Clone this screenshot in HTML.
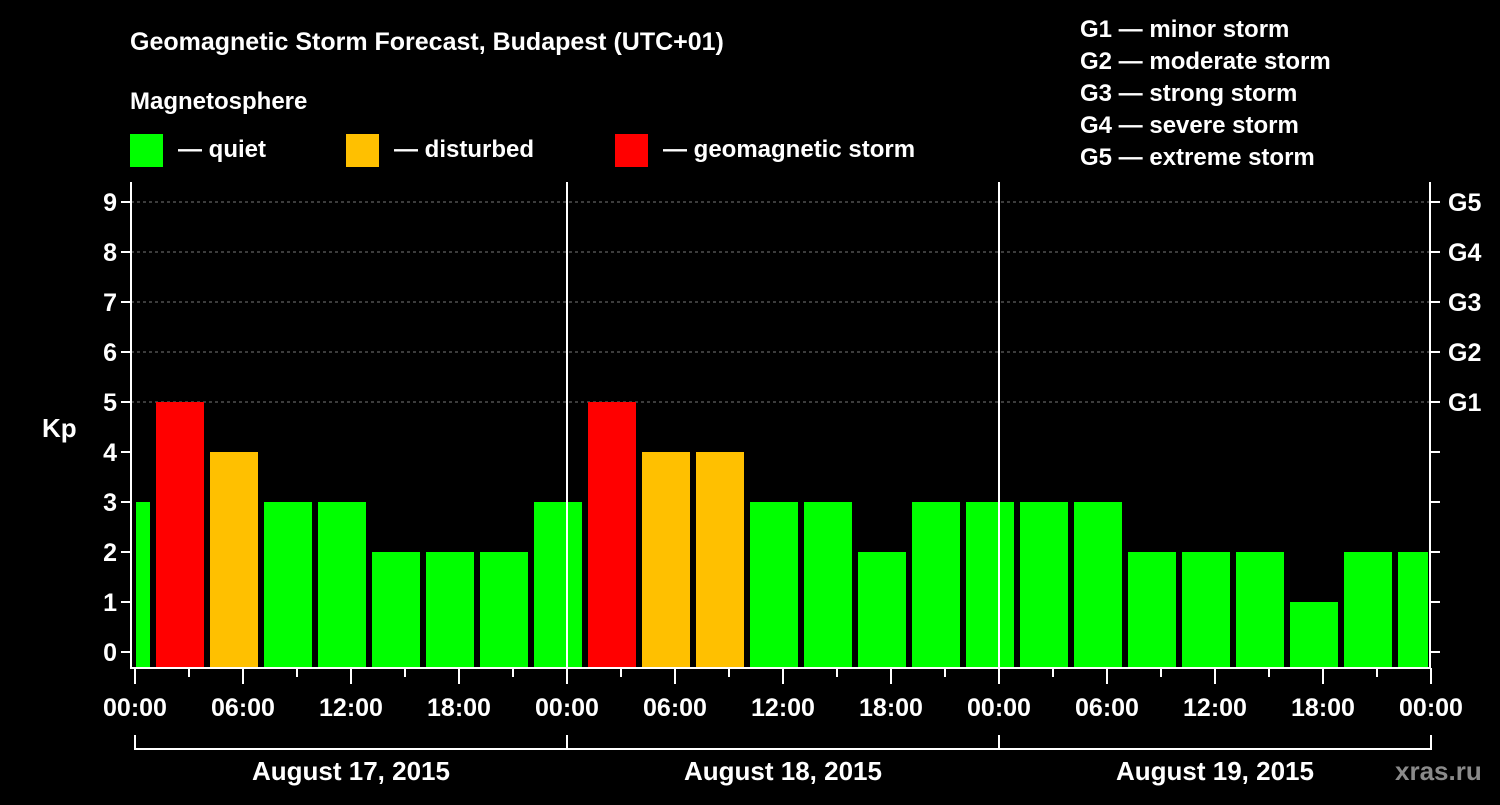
<!DOCTYPE html>
<html><head><meta charset="utf-8"><style>
body{margin:0;background:#000;}
svg text{font-family:"Liberation Sans",Arial,sans-serif;font-weight:bold;fill:#fff;}
</style></head><body>
<svg width="1500" height="800" viewBox="0 0 1500 800" xmlns="http://www.w3.org/2000/svg">
<rect width="1500" height="800" fill="#000"/>
<text x="130" y="50" font-size="25">Geomagnetic Storm Forecast, Budapest (UTC+01)</text>
<text x="130" y="109" font-size="24">Magnetosphere</text>
<g><rect x="130" y="134" width="33" height="33" fill="#00ff00"/><text x="178" y="157" font-size="24">— quiet</text></g>
<g><rect x="346" y="134" width="33" height="33" fill="#ffc000"/><text x="394" y="157" font-size="24">— disturbed</text></g>
<g><rect x="615" y="134" width="33" height="33" fill="#ff0000"/><text x="663" y="157" font-size="24">— geomagnetic storm</text></g>
<g font-size="24">
<text x="1080" y="37">G1 — minor storm</text>
<text x="1080" y="69">G2 — moderate storm</text>
<text x="1080" y="101">G3 — strong storm</text>
<text x="1080" y="133">G4 — severe storm</text>
<text x="1080" y="165">G5 — extreme storm</text>
</g>
<text x="42" y="437" font-size="26">Kp</text>
<g id="plot"></g>
<text x="1395" y="780" font-size="26" fill="#888" style="fill:#8a8a8a">xras.ru</text>
</svg>
<script>
const kpValues=[3,5,4,3,3,2,2,2,3,5,4,4,3,3,2,3,3,3,3,2,2,2,1,2,2];
const yTicks=[0,1,2,3,4,5,6,7,8,9];
const gLabels=["G1","G2","G3","G4","G5"];
const hourLabels=["00:00","06:00","12:00","18:00"];
const dayLabels=["August 17, 2015","August 18, 2015","August 19, 2015"];
const NS="http://www.w3.org/2000/svg";
const g=document.getElementById('plot');
const L=131,R=1430,T=182,B=668,X0=135,HPX=18;
const y=v=>652-50*v;
const x=h=>X0+h*HPX;
function mk(t,a){const e=document.createElementNS(NS,t);for(const k in a)e.setAttribute(k,a[k]);g.appendChild(e);return e;}
// grid
for(let v=5;v<=9;v++){const l=mk('line',{x1:L,x2:R,y1:y(v),y2:y(v),stroke:'#777','stroke-dasharray':'3,3'});

}
// bars
kpValues.forEach((v,k)=>{
 let x0=x(3*k-2)+3,x1=x0+48;
 x0=Math.max(x0,L+5);x1=Math.min(x1,R-2);
 const c=v>=5?'#ff0000':(v>=4?'#ffc000':'#00ff00');
 const r=mk('rect',{x:x0,y:y(v),width:x1-x0,height:B-1-y(v),fill:c});
 
 
});
// day separators
[1,2].forEach(d=>{const l=mk('line',{x1:x(24*d),x2:x(24*d),y1:T,y2:B,stroke:'#fff','stroke-width':2});

});
// frame
const f=mk('path',{d:`M${L} ${T}V${B}H${R}V${T}`,stroke:'#fff','stroke-width':2,fill:'none'});


// y ticks
yTicks.forEach(v=>{
 mk('line',{x1:L-10,x2:L,y1:y(v),y2:y(v),stroke:'#fff','stroke-width':2});
 mk('line',{x1:R,x2:R+10,y1:y(v),y2:y(v),stroke:'#fff','stroke-width':2});
 const t=mk('text',{x:L-14,y:y(v)+9,'font-size':25,'text-anchor':'end'});t.textContent=v;
 
 
});
gLabels.forEach((s,i)=>{const t=mk('text',{x:R+18,y:y(5+i)+9,'font-size':25});t.textContent=s;
 
 });
// x ticks
for(let h=0;h<=72;h+=3){const long=h%6===0;mk('line',{x1:x(h),x2:x(h),y1:B,y2:B+(long?16:9),stroke:'#fff','stroke-width':2});}
for(let d=0;d<=3;d++)for(let i=0;i<4;i++){if(d===3&&i>0)break;
 const t=mk('text',{x:x(24*d+6*i),y:716,'font-size':25,'text-anchor':'middle'});t.textContent=hourLabels[i];
 
 }
// day bracket
mk('path',{d:`M${x(0)} 735V749H${x(72)}V735M${x(24)} 735V749M${x(48)} 735V749`,stroke:'#fff','stroke-width':2,fill:'none'});
dayLabels.forEach((s,d)=>{const t=mk('text',{x:x(24*d+12),y:780,'font-size':26,'text-anchor':'middle'});t.textContent=s;
 
 });
</script>
</body></html>
